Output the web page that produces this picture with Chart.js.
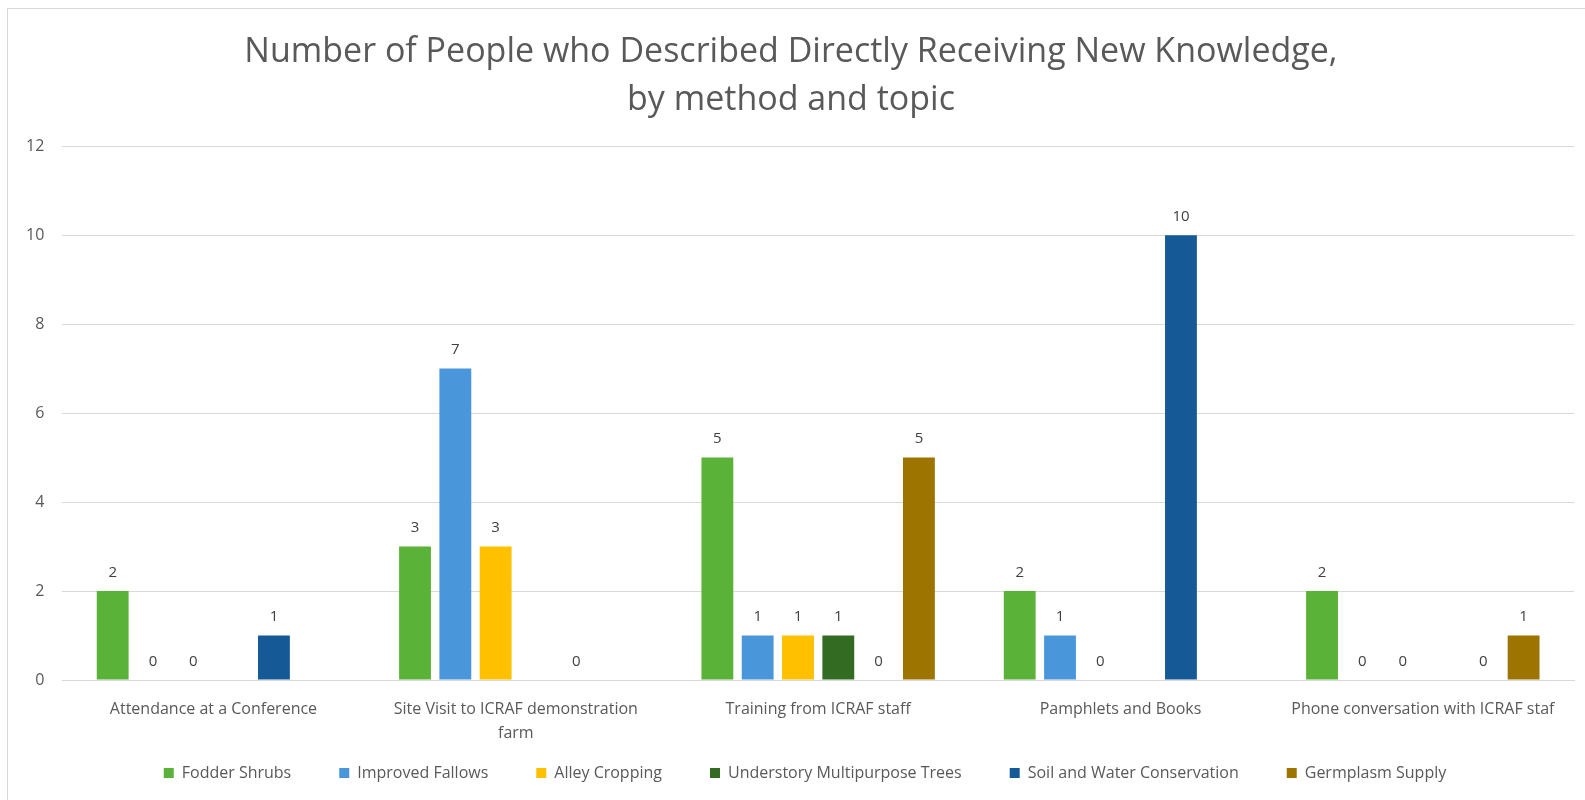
<!DOCTYPE html>
<html>
<head>
<meta charset="utf-8">
<script src="https://cdn.jsdelivr.net/npm/chart.js@4/dist/chart.umd.min.js"></script>
<style>
  html, body { margin: 0; padding: 0; background: #fff; }
  #frame { position: absolute; left: 7px; top: 8px; width: 1590px; height: 800px; border: 1px solid #d9d9d9; box-sizing: border-box; }
  #wrap { position: absolute; left: 0; top: 0; width: 1585px; height: 800px; }
</style>
</head>
<body>
<div id="frame"></div>
<div id="wrap"><canvas id="c" width="1585" height="800"></canvas></div>
<script>
const categories = [
  "Attendance at a Conference",
  ["Site Visit to ICRAF demonstration", "farm"],
  "Training from ICRAF staff",
  "Pamphlets and Books",
  "Phone conversation with ICRAF staf"
];
const seriesNames = ["Fodder Shrubs", "Improved Fallows", "Alley Cropping", "Understory Multipurpose Trees", "Soil and Water Conservation", "Germplasm Supply"];
const fodderShrubs     = [2, 3, 5, 2, 2];
const improvedFallows  = [0, 7, 1, 1, 0];
const alleyCropping    = [0, 3, 1, 0, 0];
const understoryTrees  = [null, null, 1, null, null];
const soilWater        = [1, 0, 0, 10, 0];
const germplasmSupply  = [null, null, 5, null, 1];
const yTicks = [0, 2, 4, 6, 8, 10, 12];
const colors = ["#5bb238", "#4a96da", "#ffc000", "#336b22", "#155a96", "#9e7400"];
const titleLines = ["Number of People who Described Directly Receiving New Knowledge,", "by method and topic"];

const allSeries = [fodderShrubs, improvedFallows, alleyCropping, understoryTrees, soilWater, germplasmSupply];
const FONT = '"Open Sans", Lato, sans-serif';
const LEGEND_CUT = 33;

const valueLabels = {
  id: 'valueLabels',
  afterDatasetsDraw(chart) {
    const ctx = chart.ctx;
    ctx.save();
    ctx.font = '15px ' + FONT;
    ctx.fillStyle = '#404040';
    ctx.textAlign = 'center';
    ctx.textBaseline = 'bottom';
    chart.data.datasets.forEach((ds, i) => {
      const meta = chart.getDatasetMeta(i);
      meta.data.forEach((el, j) => {
        const v = ds.data[j];
        if (v === null || v === undefined) return;
        ctx.fillText(String(v), el.x, el.y - 11);
      });
    });
    ctx.restore();
  }
};

const legendAdjust = {
  id: 'legendAdjust',
  beforeLayout(chart) {
    const lg = chart.legend;
    if (lg && !lg.__patched) {
      const origFit = lg.fit;
      lg.fit = function () { origFit.call(this); this.height = Math.max(0, this.height - LEGEND_CUT); };
      lg.__patched = true;
    }
  },
  afterLayout(chart) {
    const lg = chart.legend;
    if (lg) {
      lg.left += 28;
      lg.top -= LEGEND_CUT;
      lg.height = lg.bottom - lg.top;
    }
  }
};

new Chart(document.getElementById('c'), {
  type: 'bar',
  data: {
    labels: categories,
    datasets: seriesNames.map((n, i) => ({
      label: n,
      data: allSeries[i],
      backgroundColor: colors[i],
      borderWidth: 0,
      categoryPercentage: 0.8,
      barPercentage: 0.79
    }))
  },
  options: {
    responsive: false,
    animation: false,
    layout: { padding: { left: 8, right: 11, top: 29, bottom: 9 } },
    plugins: {
      title: {
        display: true,
        text: titleLines,
        color: '#595959',
        font: { family: FONT, size: 34, weight: 'normal', lineHeight: 1.4 },
        padding: { top: 0, bottom: 22 }
      },
      legend: {
        position: 'bottom',
        labels: {
          color: '#595959',
          font: { family: FONT, size: 16 },
          boxWidth: 10,
          boxHeight: 10,
          padding: 48
        }
      },
      tooltip: { enabled: false }
    },
    scales: {
      x: {
        grid: { display: false, drawTicks: false },
        border: { color: '#d9d9d9' },
        afterFit(axis) { axis.height = 70; },
        ticks: { color: '#595959', font: { family: FONT, size: 16, lineHeight: 1.5 }, padding: 17, maxRotation: 0, autoSkip: false }
      },
      y: {
        min: 0, max: 12,
        afterBuildTicks(axis) { axis.ticks = yTicks.map(v => ({ value: v })); },
        grid: { color: '#d9d9d9', drawTicks: false },
        border: { display: false },
        ticks: { color: '#595959', font: { family: FONT, size: 16 }, padding: 18 }
      }
    }
  },
  plugins: [valueLabels, legendAdjust]
});
</script>
</body>
</html>
